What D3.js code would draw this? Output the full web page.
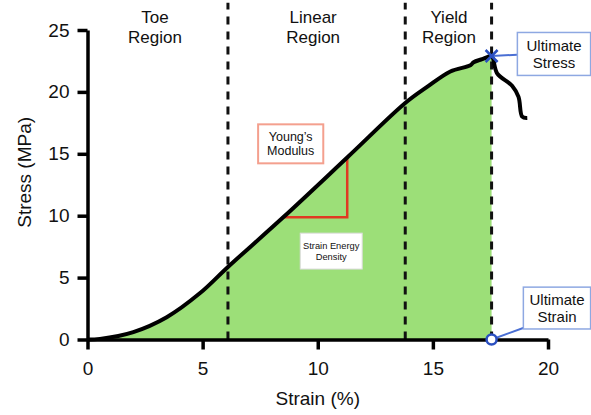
<!DOCTYPE html>
<html>
<head>
<meta charset="utf-8">
<script src="https://cdn.jsdelivr.net/npm/d3@7"></script>
<style>
  html, body { margin: 0; padding: 0; background: #fff; }
  svg { display: block; font-family: "Liberation Sans", Arial, sans-serif; }
</style>
</head>
<body>
<div id="chart"></div>
<script>
// curve (strain %, stress MPa)
const strain = [0, 0.54, 1.99, 3.44, 4.89, 6.1, 8.5, 11.28, 13.8, 14.75, 15.76, 16.63, 16.77, 17.14, 17.36, 17.55, 17.79, 18.44, 18.72, 18.88, 19.1];
const stress = [0, 0.05, 0.6, 1.8, 3.75, 5.86, 9.87, 14.7, 19.1, 20.4, 21.65, 22.15, 22.4, 22.65, 22.8, 22.9, 21.5, 20.5, 19.6, 18.0, 17.9];
const peakIndex = 15;
const slopeIdx = [6, 7]; // points used for the Young's modulus triangle

const regionBounds = [6.1, 13.8, 17.55];
const regionNames = [["Toe", "Region"], ["Linear", "Region"], ["Yield", "Region"]];
const regionLabelX = [2.93, 9.8, 15.7];

const xTicks = [0, 5, 10, 15, 20];
const yTicks = [0, 5, 10, 15, 20, 25];

const width = 591, height = 415;

const x = d3.scaleLinear().domain([0, 20]).range([87.5, 548]);
const y = d3.scaleLinear().domain([0, 25]).range([339.5, 30]);

const svg = d3.select("#chart").append("svg")
  .attr("width", width)
  .attr("height", height);

const pts = strain.map((s, i) => [s, stress[i]]);
const curve = d3.curveCatmullRom.alpha(0.5);

// green area under curve up to ultimate strain
const area = d3.area()
  .x(d => x(d[0]))
  .y0(y(0))
  .y1(d => y(d[1]))
  .curve(curve);

svg.append("path")
  .datum(pts.slice(0, peakIndex + 1))
  .attr("d", area)
  .attr("fill", "#9cdf78");

// region dividers
svg.selectAll(".divider")
  .data(regionBounds)
  .enter()
  .append("line")
  .attr("x1", d => x(d)).attr("x2", d => x(d))
  .attr("y1", y(0)).attr("y2", y(27.2))
  .attr("stroke", "#111")
  .attr("stroke-width", 3)
  .attr("stroke-dasharray", "8,7");

// region labels
const rl = svg.selectAll(".region")
  .data(regionNames)
  .enter()
  .append("text")
  .attr("text-anchor", "middle")
  .attr("font-size", 17)
  .attr("fill", "#111");
rl.each(function(d, i) {
  d3.select(this).selectAll("tspan")
    .data(d)
    .enter()
    .append("tspan")
    .attr("x", x(regionLabelX[i]))
    .attr("y", (t, j) => 23 + j * 20)
    .text(t => t);
});

// Young's modulus triangle
const p0 = pts[slopeIdx[0]], p1 = pts[slopeIdx[1]];
svg.append("path")
  .attr("d", `M${x(p0[0])},${y(p0[1])} L${x(p1[0])},${y(p0[1])} L${x(p1[0])},${y(p1[1])}`)
  .attr("fill", "none")
  .attr("stroke", "#e03a22")
  .attr("stroke-width", 2.5);

// stress-strain curve
const line = d3.line()
  .x(d => x(d[0]))
  .y(d => y(d[1]))
  .curve(curve);

svg.append("path")
  .datum(pts)
  .attr("d", line)
  .attr("fill", "none")
  .attr("stroke", "#000")
  .attr("stroke-width", 4)
  .attr("stroke-linejoin", "round");

// axes
const yAxis = svg.append("g")
  .attr("transform", `translate(${x(0)},0)`)
  .call(d3.axisLeft(y).tickValues(yTicks).tickSize(10).tickPadding(8).tickSizeOuter(0));
const xAxis = svg.append("g")
  .attr("transform", `translate(0,${y(0)})`)
  .call(d3.axisBottom(x).tickValues(xTicks).tickSize(10).tickPadding(12).tickSizeOuter(0));

[xAxis, yAxis].forEach(g => {
  g.select(".domain").attr("stroke", "#000").attr("stroke-width", 3.5);
  g.selectAll(".tick line").attr("stroke", "#000").attr("stroke-width", 3.5);
  g.selectAll(".tick text")
    .attr("font-size", 19)
    .attr("font-family", "Liberation Sans, Arial, sans-serif")
    .attr("fill", "#111");
});

svg.append("text")
  .attr("x", x(10)).attr("y", 405)
  .attr("text-anchor", "middle")
  .attr("font-size", 19)
  .attr("fill", "#111")
  .text("Strain (%)");

svg.append("text")
  .attr("transform", `translate(31,${y(13.5)}) rotate(-90)`)
  .attr("text-anchor", "middle")
  .attr("font-size", 19)
  .attr("fill", "#111")
  .text("Stress (MPa)");

// annotation boxes
function box(x0, y0, x1, y1, lines, opts) {
  const g = svg.append("g");
  g.append("rect")
    .attr("x", x(x0)).attr("y", y(y0))
    .attr("width", x(x1) - x(x0)).attr("height", y(y1) - y(y0))
    .attr("fill", "#fff")
    .attr("stroke", opts.stroke)
    .attr("stroke-width", opts.sw);
  const cx = (x(x0) + x(x1)) / 2, cy = (y(y0) + y(y1)) / 2;
  const t = g.append("text")
    .attr("text-anchor", "middle")
    .attr("font-size", opts.fs)
    .attr("fill", "#111");
  lines.forEach((s, j) => {
    t.append("tspan")
      .attr("x", cx)
      .attr("y", cy + (j - (lines.length - 1) / 2) * opts.fs * 1.15 + opts.fs * 0.35)
      .text(s);
  });
}

const peak = pts[peakIndex];

// connectors
svg.append("line")
  .attr("x1", x(peak[0])).attr("y1", y(peak[1]))
  .attr("x2", x(18.67)).attr("y2", y(23.0))
  .attr("stroke", "#4a6fd4").attr("stroke-width", 2);
svg.append("line")
  .attr("x1", x(peak[0])).attr("y1", y(0))
  .attr("x2", x(18.95)).attr("y2", y(0.95))
  .attr("stroke", "#4a6fd4").attr("stroke-width", 2);

box(7.41, 17.38, 10.24, 14.23, ["Young\u2019s", "Modulus"], { stroke: "#f4a08e", sw: 2, fs: 12.5 });
box(9.24, 8.59, 11.93, 5.69, ["Strain Energy", "Density"], { stroke: "#dcdcdc", sw: 1, fs: 9.3 });
box(18.67, 24.8, 21.85, 21.33, ["Ultimate", "Stress"], { stroke: "#8ea8e2", sw: 1.5, fs: 15 });
box(18.93, 4.23, 21.85, 0.85, ["Ultimate", "Strain"], { stroke: "#8ea8e2", sw: 1.5, fs: 15 });

// ultimate stress marker
const m = 6;
svg.append("path")
  .attr("d", `M${x(peak[0]) - m},${y(peak[1]) - m} L${x(peak[0]) + m},${y(peak[1]) + m} M${x(peak[0]) - m},${y(peak[1]) + m} L${x(peak[0]) + m},${y(peak[1]) - m}`)
  .attr("stroke", "#2a4fc0")
  .attr("stroke-width", 2.5);

// ultimate strain marker
svg.append("circle")
  .attr("cx", x(peak[0])).attr("cy", y(0))
  .attr("r", 5)
  .attr("fill", "#fff")
  .attr("stroke", "#2a4fc0")
  .attr("stroke-width", 2.5);
</script>
</body>
</html>
